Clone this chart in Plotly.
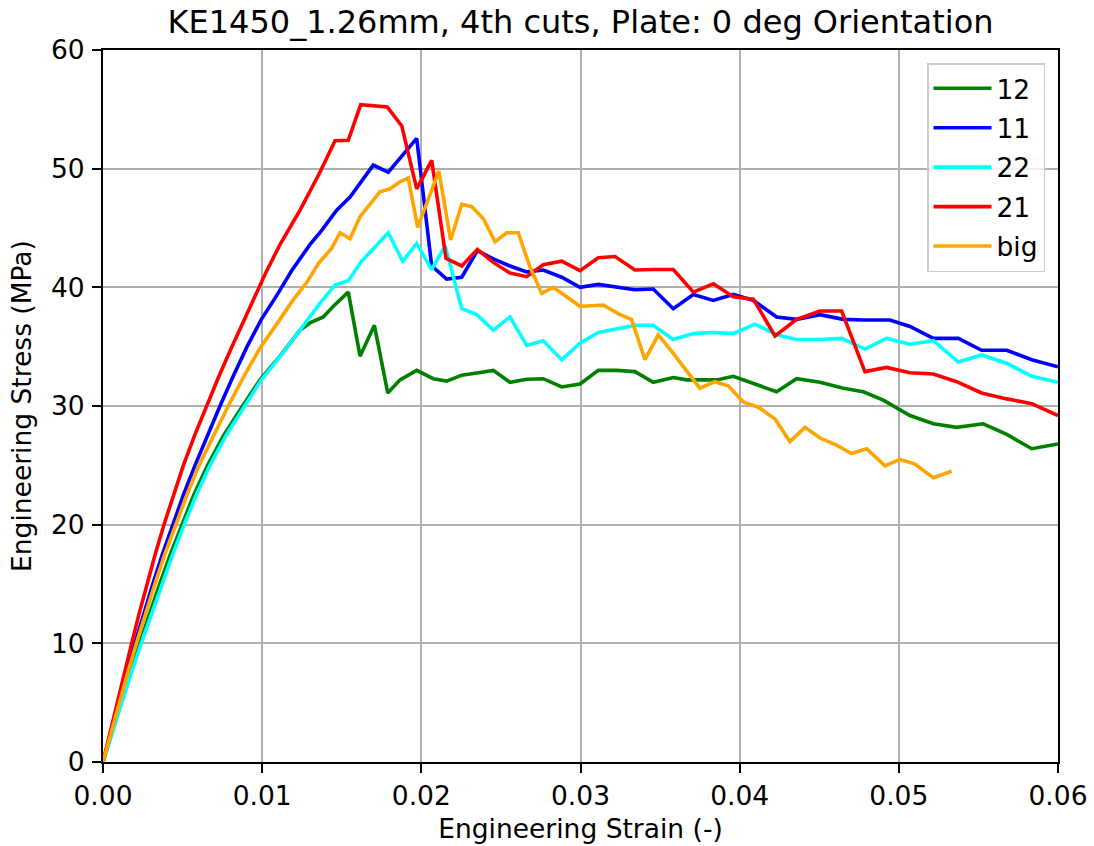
import plotly.graph_objects as go

# ---- data ----
strain_12 = [0, 0.00056, 0.00114, 0.00171, 0.0023, 0.00292, 0.00356, 0.00423, 0.00494, 0.0057, 0.00657, 0.00757,
             0.00877, 0.00986, 0.01112, 0.01238, 0.0130, 0.01384,
             0.01447, 0.01541, 0.01615, 0.01705, 0.01789, 0.01866, 0.01971, 0.02075, 0.02159, 0.02254, 0.02358,
             0.02452, 0.02557, 0.02662, 0.02766, 0.02882, 0.02997, 0.03112, 0.03227, 0.03342, 0.03457, 0.03583,
             0.03667, 0.03855, 0.0396, 0.04107, 0.04232, 0.04358, 0.04505, 0.04651, 0.04777, 0.04902, 0.0507,
             0.05217, 0.05363, 0.0553, 0.05678, 0.05835, 0.06]
stress_12 = [0, 2.5, 5.0, 7.5, 10.0, 12.5, 15.0, 17.5, 20.0, 22.5, 25.0, 27.5,
             30.0, 32.2, 34.2, 36.4, 37.0, 37.5,
             38.4, 39.6, 34.2, 36.8, 31.1, 32.2, 33.0, 32.3, 32.1, 32.6, 32.8,
             33.0, 32.0, 32.25, 32.3, 31.6, 31.85, 33.0, 33.0, 32.9, 32.0, 32.4,
             32.2, 32.2, 32.5, 31.8, 31.2, 32.3, 32.0, 31.5, 31.2, 30.5, 29.2,
             28.5, 28.2, 28.5, 27.6, 26.4, 26.8]

strain_11 = [0, 0.00048, 0.00098, 0.00149, 0.00201, 0.00256, 0.00313, 0.00373, 0.00437, 0.00505, 0.00578, 0.00654,
             0.00735, 0.00818, 0.00905, 0.00995, 0.01091, 0.01185, 0.013, 0.01374, 0.01468,
             0.01552, 0.01698, 0.01792, 0.01877, 0.01971, 0.02065, 0.02159, 0.02254, 0.02352, 0.02452, 0.02557,
             0.02662, 0.02766, 0.02882, 0.02997, 0.03112, 0.03227, 0.03342, 0.03457, 0.03583, 0.03709, 0.03834,
             0.0396, 0.04086, 0.04232, 0.04358, 0.04505, 0.04651, 0.04777, 0.04944, 0.0507, 0.05217, 0.05374,
             0.0552, 0.05678, 0.05835, 0.06]
stress_11 = [0, 2.5, 5.0, 7.5, 10.0, 12.5, 15.0, 17.5, 20.0, 22.5, 25.0, 27.5,
             30.0, 32.5, 35.0, 37.3, 39.3, 41.4, 43.6, 44.8, 46.5,
             47.6, 50.3, 49.7, 51.1, 52.55, 41.8, 40.7, 40.85, 43.1, 42.4, 41.8,
             41.3, 41.46, 40.85, 40.0, 40.25, 40.0, 39.8, 39.86, 38.2, 39.4, 38.9,
             39.4, 38.9, 37.5, 37.3, 37.7, 37.3, 37.25, 37.25, 36.7, 35.7, 35.7,
             34.7, 34.7, 33.9, 33.3]

strain_22 = [0, 0.00058, 0.00118, 0.00178, 0.0024, 0.00304, 0.0037, 0.00438, 0.0051, 0.00586, 0.00672, 0.00772,
             0.0089, 0.00995, 0.01112, 0.01238, 0.01363, 0.01458,
             0.01541, 0.01625, 0.01792, 0.01883, 0.01971, 0.02065, 0.0215, 0.02254, 0.02348, 0.02452, 0.02557,
             0.02662, 0.02766, 0.02882, 0.02997, 0.03112, 0.03227, 0.03342, 0.03457, 0.03583, 0.03709, 0.03834,
             0.0396, 0.04096, 0.04232, 0.04358, 0.04505, 0.04641, 0.04787, 0.04923, 0.0507, 0.05217, 0.05374,
             0.0552, 0.05678, 0.05835, 0.06]
stress_22 = [0, 2.5, 5.0, 7.5, 10.0, 12.5, 15.0, 17.5, 20.0, 22.5, 25.0, 27.5,
             30.0, 32.2, 34.15, 36.4, 38.65, 40.2,
             40.55, 42.2, 44.6, 42.2, 43.7, 41.5, 43.5, 38.2, 37.7, 36.4, 37.5,
             35.1, 35.5, 33.9, 35.3, 36.2, 36.5, 36.8, 36.8, 35.6, 36.1, 36.2,
             36.1, 36.9, 36.0, 35.6, 35.6, 35.7, 34.8, 35.7, 35.2, 35.5, 33.7,
             34.3, 33.6, 32.5, 32.0]

strain_21 = [0, 0.00044, 0.0009, 0.00135, 0.0018, 0.00227, 0.00276, 0.00328, 0.00383, 0.00442, 0.00505, 0.00575,
             0.0065, 0.00725, 0.008, 0.0087, 0.0094, 0.01025, 0.01112, 0.01238, 0.01363,
             0.01458, 0.01541, 0.01619, 0.01786, 0.01877, 0.01971, 0.02065, 0.02155, 0.02254, 0.02352, 0.02452,
             0.02557, 0.02662, 0.02766, 0.02882, 0.02997, 0.03112, 0.03217, 0.03342, 0.03457, 0.03583, 0.03709,
             0.03834, 0.0396, 0.04086, 0.04222, 0.04358, 0.04505, 0.04641, 0.04787, 0.04923, 0.0507, 0.05217,
             0.05363, 0.0552, 0.05678, 0.05835, 0.06]
stress_21 = [0, 2.5, 5.0, 7.5, 10.0, 12.5, 15.0, 17.5, 20.0, 22.5, 25.0, 27.5,
             30.0, 32.4, 34.7, 36.8, 38.9, 41.3, 43.6, 46.5, 49.7,
             52.35, 52.4, 55.4, 55.2, 53.6, 48.3, 50.7, 42.45, 41.8, 43.2, 42.1,
             41.2, 40.9, 41.9, 42.2, 41.4, 42.5, 42.6, 41.46, 41.5, 41.5, 39.6,
             40.3, 39.2, 39.0, 35.9, 37.3, 38.0, 38.0, 32.9, 33.25, 32.8, 32.7,
             32.05, 31.1, 30.6, 30.2, 29.2]

strain_big = [0, 0.0005, 0.00102, 0.00155, 0.0021, 0.00267, 0.00326, 0.00388, 0.00455, 0.00527, 0.00603, 0.00693,
              0.00787, 0.00885, 0.00992, 0.01112, 0.01192, 0.0128, 0.01353, 0.01437,
              0.01489, 0.01552, 0.01615, 0.0174, 0.01803, 0.01866, 0.01918, 0.01977, 0.0211, 0.02184, 0.02254,
              0.02317, 0.02389, 0.02463, 0.02536, 0.02609, 0.02683, 0.02756, 0.02829, 0.02913, 0.02997, 0.0307,
              0.03143, 0.03248, 0.03321, 0.03405, 0.03489, 0.03573, 0.0375, 0.03844, 0.03928, 0.04023, 0.04117,
              0.04222, 0.04316, 0.0441, 0.04505, 0.04609, 0.04703, 0.04798, 0.04913, 0.05007, 0.05101, 0.05217,
              0.05332]
stress_big = [0, 2.5, 5.0, 7.5, 10.0, 12.5, 15.0, 17.5, 20.0, 22.5, 25.0, 27.5,
              30.0, 32.5, 35.0, 37.3, 38.9, 40.4, 42.0, 43.3,
              44.6, 44.1, 45.95, 48.05, 48.3, 48.9, 49.2, 45.05, 49.8, 44.0, 47.0,
              46.8, 45.8, 43.85, 44.6, 44.6, 41.7, 39.5, 40.0, 39.2, 38.4, 38.45,
              38.5, 37.7, 37.3, 33.9, 36.0, 34.6, 31.5, 32.05, 31.7, 30.35, 29.9,
              28.9, 27.0, 28.2, 27.3, 26.7, 26.0, 26.4, 24.95, 25.5, 25.1, 23.95,
              24.5]

series = [
    ("12", strain_12, stress_12, "green"),
    ("11", strain_11, stress_11, "blue"),
    ("22", strain_22, stress_22, "cyan"),
    ("21", strain_21, stress_21, "red"),
    ("big", strain_big, stress_big, "orange"),
]

title_text = "KE1450_1.26mm, 4th cuts, Plate: 0 deg Orientation"
x_label = "Engineering Strain (-)"
y_label = "Engineering Stress (MPa)"

FONT = "DejaVu Sans"
FS = 26.5

fig = go.Figure()
for name, xs, ys, col in series:
    fig.add_trace(go.Scatter(x=xs, y=ys, mode="lines", name=name, legendgroup=name,
                             line=dict(color=col, width=3.6)))

axis_common = dict(
    showline=True, mirror=True, linecolor="black", linewidth=2,
    ticks="outside", ticklen=9, tickwidth=2, tickcolor="black",
    showgrid=True, gridcolor="#b0b0b0", gridwidth=1.8,
    zeroline=False, tickfont=dict(family=FONT, size=FS, color="black"),
    automargin=False,
)

fig.update_layout(
    width=1094, height=846,
    margin=dict(l=103, r=36, t=50, b=84),
    paper_bgcolor="white", plot_bgcolor="white",
    font=dict(family=FONT, color="black"),
    title=dict(text=title_text, x=0.5, xref="paper", xanchor="center",
               y=1 - 22 / 846, yref="container", yanchor="middle",
               font=dict(family=FONT, size=32, color="black")),
    xaxis=dict(range=[0, 0.06], dtick=0.01, tickformat=".2f", ticklabelstandoff=0,
               title=dict(text=x_label, font=dict(family=FONT, size=FS, color="black"), standoff=10),
               **axis_common),
    yaxis=dict(range=[0, 60], dtick=10, ticklabelstandoff=2,
               title=dict(text=y_label, font=dict(family=FONT, size=FS, color="black"), standoff=12),
               **axis_common),
    legend=dict(x=(1045 - 103) / 955, xanchor="right", y=1 - 13 / 712, yanchor="top",
                bgcolor="rgba(255,255,255,0.8)", bordercolor="#cccccc", borderwidth=1.5,
                font=dict(family=FONT, size=FS, color="black"),
                tracegroupgap=2, itemwidth=58, entrywidth=132, entrywidthmode="pixels"),
    showlegend=True,
)

fig.write_html("out.html")
